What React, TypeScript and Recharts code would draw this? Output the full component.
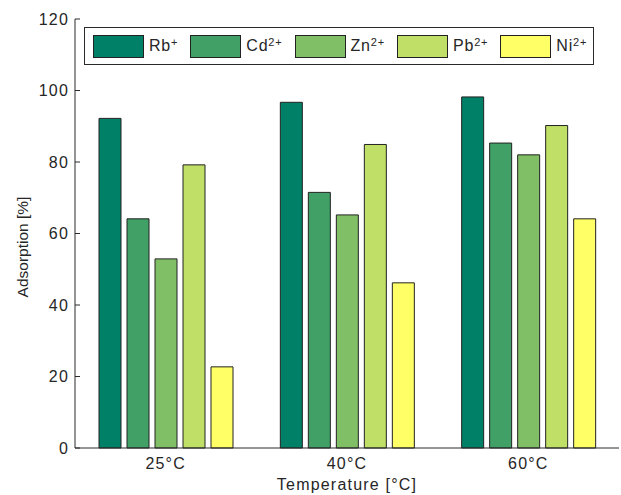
import React from 'react';
import { BarChart, Bar, XAxis, YAxis, Legend } from 'recharts';

const categories = ['25°C', '40°C', '60°C'];
const rbValues = [92.2, 96.7, 98.2];
const cdValues = [64.1, 71.5, 85.3];
const znValues = [52.9, 65.2, 82.0];
const pbValues = [79.2, 84.9, 90.2];
const niValues = [22.7, 46.2, 64.1];
const yTicks = [0, 20, 40, 60, 80, 100, 120];

const seriesNames = ['Rb', 'Cd', 'Zn', 'Pb', 'Ni'];
const seriesSups = ['+', '2+', '2+', '2+', '2+'];
const seriesKeys = ['rb', 'cd', 'zn', 'pb', 'ni'];
const seriesColors = ['#008066', '#40A066', '#80BF66', '#BFDF66', '#FFFF66'];

const data = categories.map((c, i) => ({
  cat: c,
  rb: rbValues[i],
  cd: cdValues[i],
  zn: znValues[i],
  pb: pbValues[i],
  ni: niValues[i],
}));

const FONT = '"Liberation Sans", Arial, Helvetica, sans-serif';
const AXIS = '#2a2a2a';
const TEXT = '#262626';

const LeftTick = (props: any) => {
  const { x, y, payload } = props;
  return (
    <g>
      <text
        x={x}
        y={y}
        dy={5.5}
        textAnchor="end"
        fontFamily={FONT}
        fontSize={16}
        letterSpacing={1.2}
        fill={TEXT}
      >
        {payload.value}
      </text>
      <line x1={x + 6} x2={x + 11} y1={y} y2={y} stroke={AXIS} strokeWidth={1} />
    </g>
  );
};

const LegendBox = () => (
  <div
    style={{
      border: `1px solid ${AXIS}`,
      background: '#fff',
      height: 38,
      boxSizing: 'border-box',
      display: 'flex',
      alignItems: 'center',
      paddingLeft: 8,
      fontFamily: FONT,
      fontSize: 16,
      letterSpacing: 0.8,
      color: TEXT,
    }}
  >
    {seriesNames.map((n, i) => (
      <div key={n} style={{ display: 'flex', alignItems: 'center', marginRight: 12 }}>
        <div
          style={{
            width: 51,
            height: 23,
            boxSizing: 'border-box',
            background: seriesColors[i],
            border: '1px solid #222',
          }}
        />
        <span style={{ marginLeft: 5, lineHeight: '20px' }}>
          {n}
          <sup style={{ fontSize: 11, verticalAlign: 5, lineHeight: 0 }}>{seriesSups[i]}</sup>
        </span>
      </div>
    ))}
  </div>
);

export default function App() {
  return (
    <div style={{ position: 'absolute', left: 0, top: 0, background: '#fff' }}>
      <BarChart
        width={621}
        height={495}
        data={data}
        margin={{ top: 19, right: 2, left: 0, bottom: 0 }}
        barGap={6}
        barSize={22}
      >
        <XAxis
          dataKey="cat"
          xAxisId="bottom"
          height={47}
          tickLine={false}
          tickMargin={4}
          axisLine={{ stroke: AXIS }}
          tick={{ fontFamily: FONT, fontSize: 16, fill: TEXT, letterSpacing: 1.2 }}
          label={{
            value: 'Temperature [°C]',
            position: 'insideBottom',
            offset: 5,
            style: { fontFamily: FONT, fontSize: 16, fill: TEXT, letterSpacing: 1.2 },
          }}
        />
        <XAxis
          dataKey="cat"
          xAxisId="top"
          orientation="top"
          mirror
          height={0}
          tickSize={5}
          tickFormatter={() => ''}
          axisLine={{ stroke: AXIS }}
          tickLine={{ stroke: AXIS }}
        />
        <YAxis
          yAxisId="left"
          width={75}
          domain={[0, 120]}
          ticks={yTicks}
          tickLine={false}
          tickSize={0}
          tickMargin={6}
          axisLine={{ stroke: AXIS }}
          tick={<LeftTick />}
          label={() => (
            <text
              x={22}
              y={247}
              transform="rotate(-90 22 247)"
              textAnchor="middle"
              dominantBaseline="central"
              fontFamily={FONT}
              fontSize={15.5}
              fill={TEXT}
            >
              Adsorption [%]
            </text>
          )}
        />
        <YAxis
          yAxisId="right"
          orientation="right"
          mirror
          width={0}
          domain={[0, 120]}
          ticks={yTicks}
          tickSize={5}
          tickFormatter={() => ''}
          axisLine={{ stroke: AXIS }}
          tickLine={{ stroke: AXIS }}
        />
        <Legend
          layout="horizontal"
          verticalAlign="middle"
          align="center"
          wrapperStyle={{ left: 84, top: 27, width: 510, height: 38 }}
          content={() => <LegendBox />}
        />
        {seriesKeys.map((k, i) => (
          <Bar
            key={k}
            dataKey={k}
            name={seriesNames[i]}
            xAxisId="bottom"
            yAxisId="left"
            fill={seriesColors[i]}
            stroke="#222"
            strokeWidth={1}
            isAnimationActive={false}
          />
        ))}
      </BarChart>
    </div>
  );
}
